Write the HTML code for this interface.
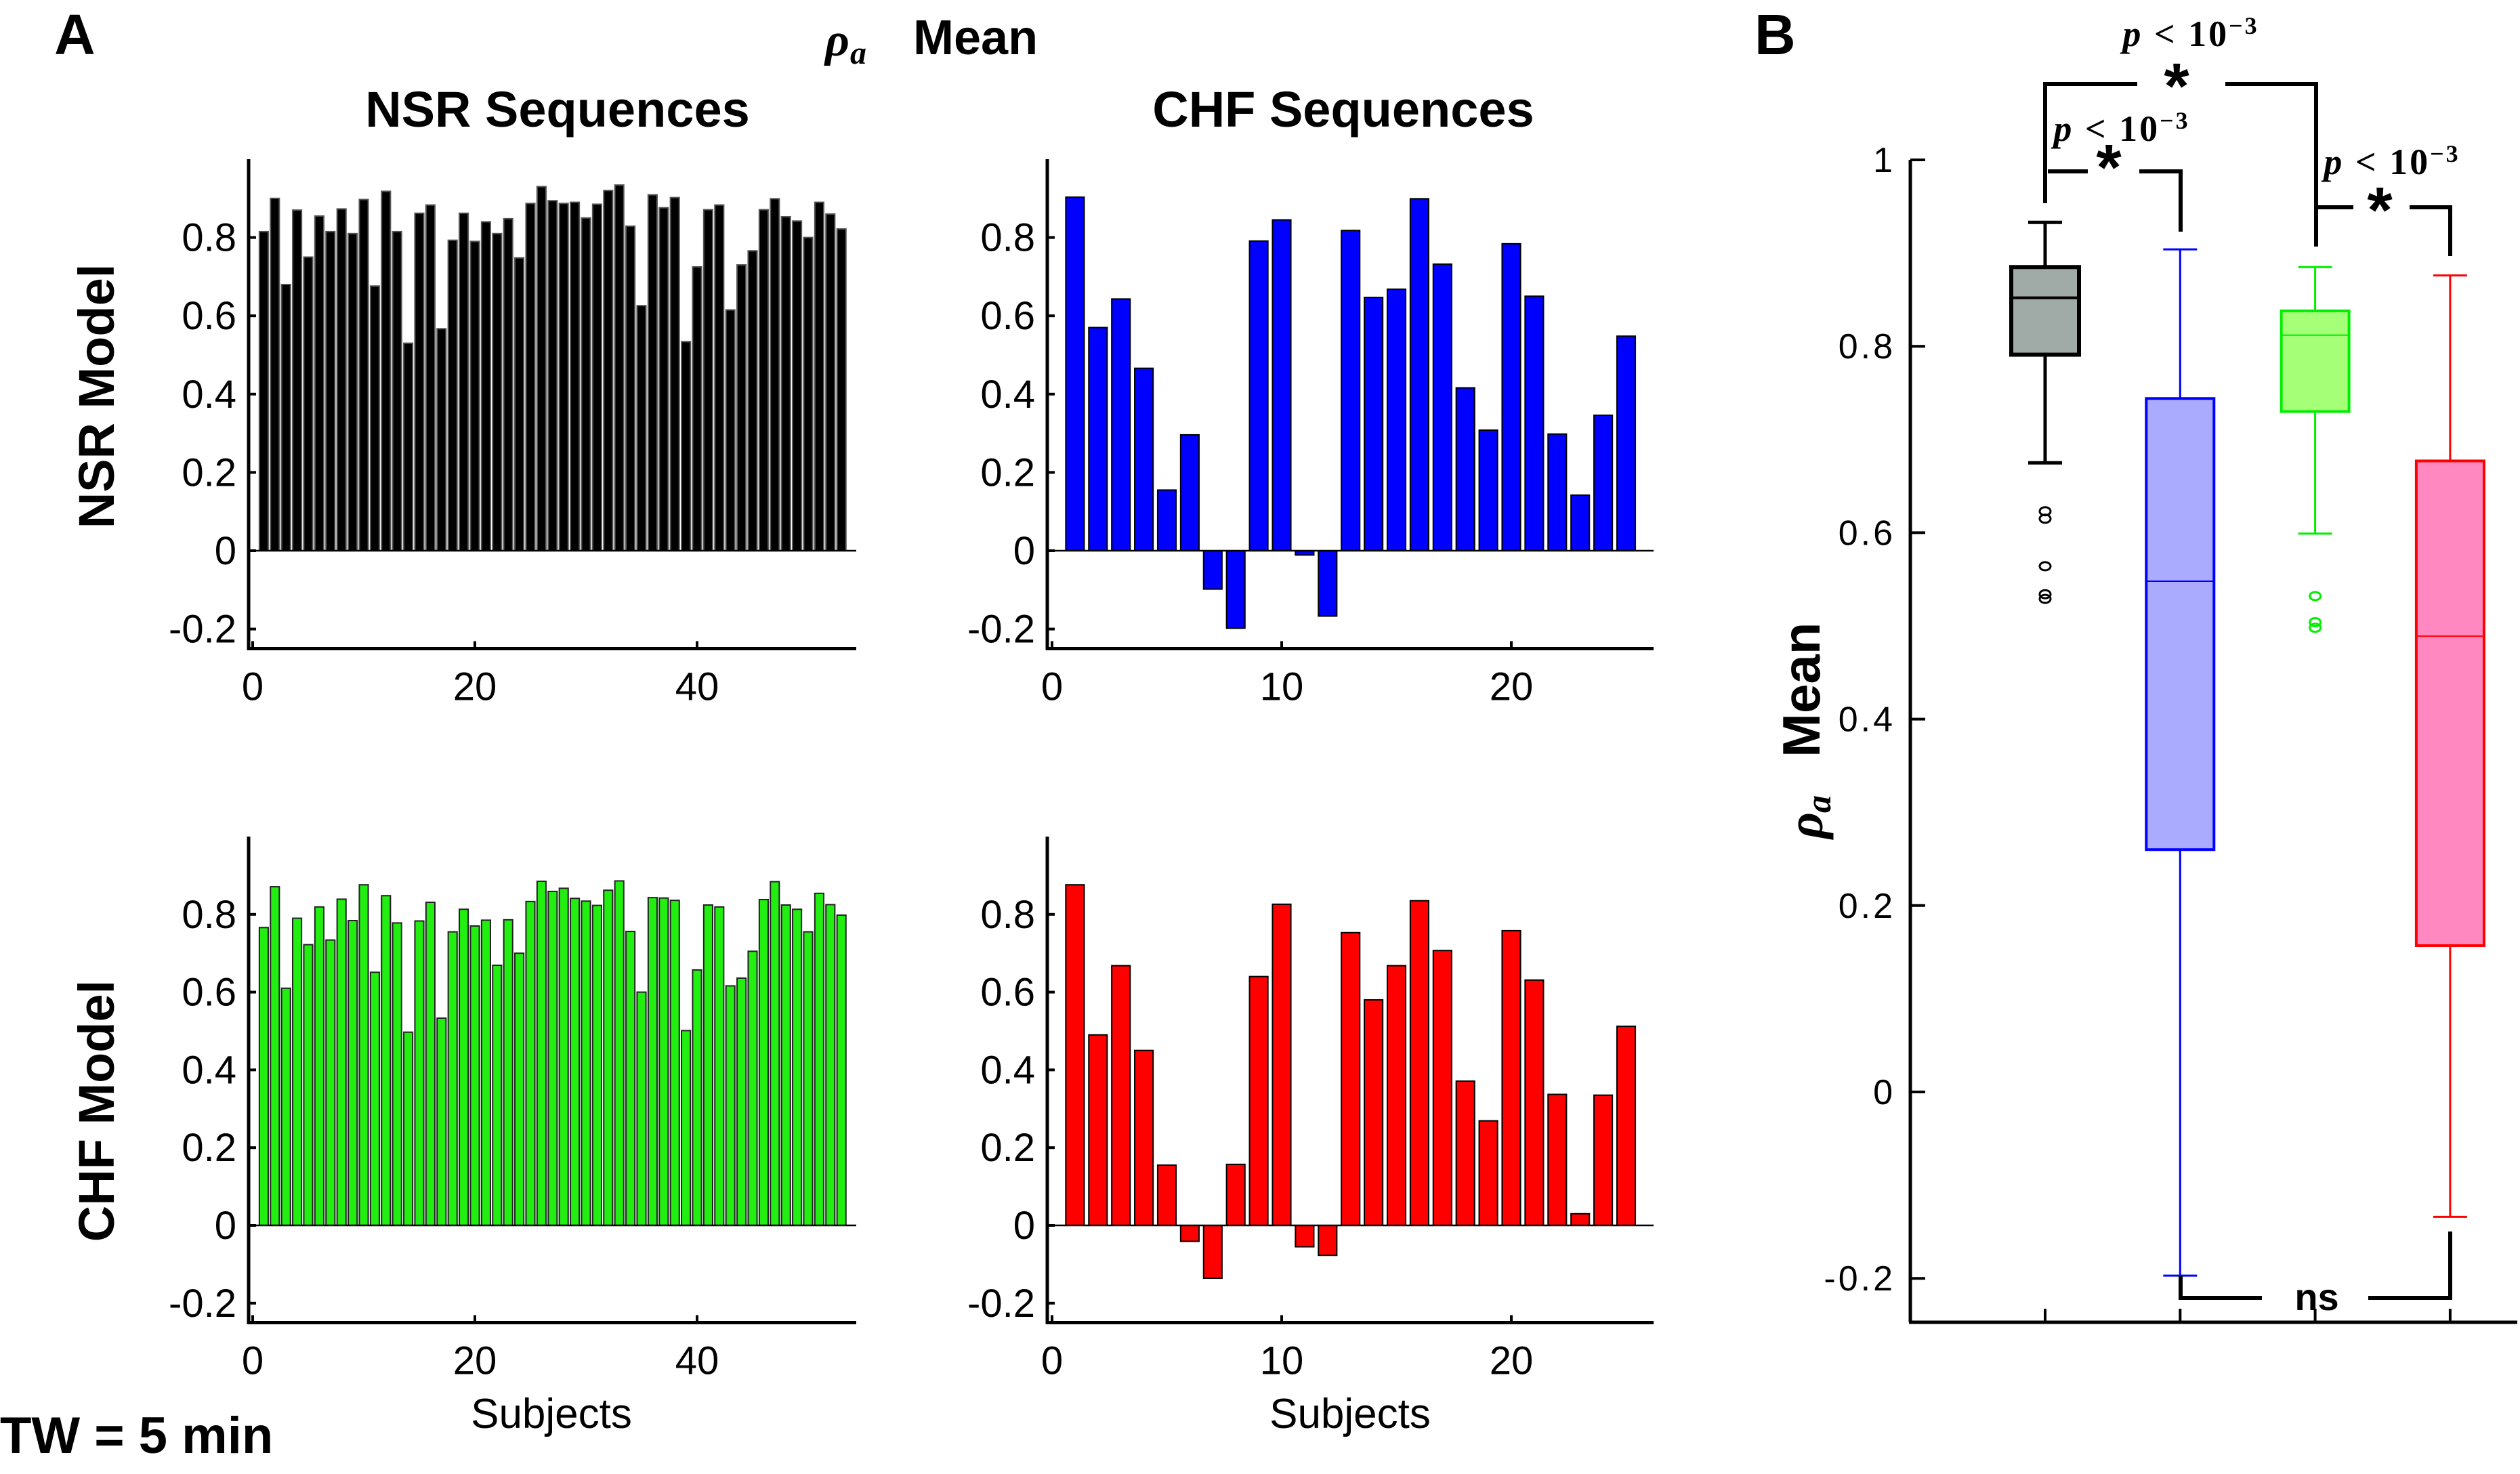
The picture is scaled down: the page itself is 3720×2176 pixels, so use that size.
<!DOCTYPE html>
<html><head><meta charset="utf-8"><style>
html,body{margin:0;padding:0;background:#fff;}
svg{display:block;font-family:"Liberation Sans",sans-serif;}
</style></head><body>
<svg id="fig" width="3720" height="2176" viewBox="0 0 3720 2176" xmlns="http://www.w3.org/2000/svg">
<text x="80" y="80" font-size="84" font-weight="bold">A</text>
<text x="2590" y="80" font-size="84" font-weight="bold">B</text>
<g>
<text x="1218" y="82" font-size="70" font-style="italic" font-weight="bold" font-family="Liberation Serif,serif">ρ</text>
<text x="1255" y="94" font-size="48" font-style="italic" font-weight="bold" font-family="Liberation Serif,serif">a</text>
<text x="1348" y="80" font-size="72" font-weight="bold">Mean</text>
</g>
<text x="823" y="187" font-size="74" font-weight="bold" text-anchor="middle">NSR Sequences</text>
<text x="1983" y="187" font-size="74" font-weight="bold" text-anchor="middle">CHF Sequences</text>
<text transform="translate(168,585) rotate(-90)" font-size="74" font-weight="bold" text-anchor="middle">NSR Model</text>
<text transform="translate(168,1640) rotate(-90)" font-size="74" font-weight="bold" text-anchor="middle">CHF Model</text>
<text x="814" y="2108" font-size="62" text-anchor="middle">Subjects</text>
<text x="1993" y="2108" font-size="62" text-anchor="middle">Subjects</text>
<text x="0" y="2145" font-size="76" font-weight="bold">TW = 5 min</text>
<g transform="translate(2668,1078) rotate(-90)">
<text x="-160" y="22" font-size="76" font-style="italic" font-weight="bold" font-family="Liberation Serif,serif">ρ</text>
<text x="-122" y="34" font-size="52" font-style="italic" font-weight="bold" font-family="Liberation Serif,serif">a</text>
<text x="-40" y="18" font-size="78" font-weight="bold">Mean</text>
</g>
<g id="charts"></g>
</svg>
<script>
const nsrModelNsrSeq = [0.815,0.90,0.68,0.87,0.75,0.855,0.815,0.873,0.81,0.897,0.676,0.918,0.815,0.53,0.862,0.883,0.567,0.793,0.862,0.79,0.84,0.81,0.848,0.748,0.887,0.93,0.894,0.887,0.89,0.85,0.885,0.92,0.934,0.829,0.626,0.909,0.876,0.902,0.534,0.725,0.871,0.883,0.615,0.73,0.766,0.871,0.899,0.853,0.842,0.80,0.89,0.86,0.822];
const nsrModelChfSeq = [0.903,0.570,0.643,0.466,0.155,0.296,-0.098,-0.198,0.791,0.845,-0.011,-0.167,0.818,0.647,0.668,0.899,0.732,0.416,0.308,0.784,0.65,0.298,0.142,0.346,0.548];
const chfModelNsrSeq = [0.766,0.871,0.61,0.79,0.722,0.819,0.734,0.839,0.784,0.876,0.651,0.848,0.778,0.497,0.783,0.831,0.533,0.755,0.813,0.77,0.785,0.669,0.786,0.70,0.833,0.885,0.859,0.867,0.841,0.834,0.823,0.862,0.886,0.756,0.60,0.843,0.842,0.836,0.501,0.657,0.824,0.819,0.616,0.636,0.705,0.838,0.884,0.824,0.813,0.755,0.854,0.825,0.798];
const chfModelChfSeq = [0.876,0.49,0.668,0.45,0.155,-0.041,-0.136,0.157,0.64,0.826,-0.055,-0.077,0.753,0.58,0.668,0.835,0.707,0.371,0.269,0.758,0.631,0.337,0.03,0.335,0.512];
const barYTicks = [-0.2,0,0.2,0.4,0.6,0.8];
const nsrXTicks = [0,20,40];
const chfXTicks = [0,10,20];
const boxGroups = ["nsr-model-nsr","nsr-model-chf","chf-model-nsr","chf-model-chf"];
const boxWhiskerHigh = [0.933,0.904,0.885,0.876];
const boxQ3 = [0.885,0.744,0.838,0.677];
const boxMedian = [0.852,0.548,0.812,0.489];
const boxQ1 = [0.791,0.26,0.73,0.157];
const boxWhiskerLow = [0.675,-0.197,0.599,-0.134];
const boxOutliers = [[0.623,0.615,0.564,0.534,0.529],[],[0.532,0.504,0.498],[]];
const boxYTicks = [-0.2,0,0.2,0.4,0.6,0.8,1];

const NS="http://www.w3.org/2000/svg";
const root=document.getElementById('charts');
function mk(tag,attrs,parent){const e=document.createElementNS(NS,tag);for(const k in attrs)e.setAttribute(k,attrs[k]);(parent||root).appendChild(e);return e;}

function barPanel(name,data,xticks,P){
  const g=mk('g',{});
  
  
  const X=v=>P.x0+v*P.ux, Y=v=>P.yZero-v*P.uy;
  const w=0.8*P.ux;
  data.forEach((v,i)=>{
    const y0=Y(0),y1=Y(v);
    const r=mk('rect',{x:X(i+1)-w/2,y:Math.min(y0,y1),width:w,height:Math.abs(y1-y0),fill:P.fill,stroke:P.edge,'stroke-width':2},g);
    
    
  });
  const zl=mk('line',{x1:P.left,x2:P.right,y1:Y(0),y2:Y(0),stroke:'#000','stroke-width':2.5},g);
  
  
  const yb=Y(-0.25), yt=Y(1);
  const ya=mk('line',{x1:P.left,x2:P.left,y1:yt,y2:yb+2,stroke:'#000','stroke-width':5},g);
  
  
  const xa=mk('line',{x1:P.left-2,x2:P.right,y1:yb,y2:yb,stroke:'#000','stroke-width':5},g);
  
  
  barYTicks.forEach(t=>{
    mk('line',{x1:P.left,x2:P.left+11,y1:Y(t),y2:Y(t),stroke:'#000','stroke-width':4},g);
    const tx=mk('text',{x:P.left-18,y:Y(t)+20,'font-size':58,'text-anchor':'end'},g);
    tx.textContent=(t===0?'0':t.toFixed(1));
    
    
  });
  xticks.forEach(t=>{
    mk('line',{x1:X(t),x2:X(t),y1:yb,y2:yb-11,stroke:'#000','stroke-width':4},g);
    const tx=mk('text',{x:X(t),y:yb+76,'font-size':58,'text-anchor':'middle'},g);
    tx.textContent=t;
    
    
  });
}
barPanel('nsr-model-nsr-seq-chart',nsrModelNsrSeq,nsrXTicks,{x0:373,ux:16.4,yZero:813,uy:578,left:367,right:1264,fill:'#000',edge:'#555'});
barPanel('nsr-model-chf-seq-chart',nsrModelChfSeq,chfXTicks,{x0:1553,ux:33.9,yZero:813,uy:578,left:1546,right:2441,fill:'#0000ff',edge:'#000'});
barPanel('chf-model-nsr-seq-chart',chfModelNsrSeq,nsrXTicks,{x0:373,ux:16.4,yZero:1809,uy:574,left:367,right:1264,fill:'#22ee11',edge:'#222'});
barPanel('chf-model-chf-seq-chart',chfModelChfSeq,chfXTicks,{x0:1553,ux:33.9,yZero:1809,uy:574,left:1546,right:2441,fill:'#ff0000',edge:'#000'});

(function(){
  const g=mk('g',{});
  
  
  const Y=v=>1612-v*1376;
  const X=i=>3019+i*199.3;
  const fills=['#a0aaa6','#aaaaff','#a5ff77','#ff88c0'];
  const edges=['#000','#0000ff','#00ee00','#ff0000'];
  const hw=50, cw=25;
  const ya=mk('line',{x1:2820,x2:2820,y1:Y(1),y2:1952,stroke:'#000','stroke-width':5},g);
  
  
  const xa=mk('line',{x1:2818,x2:3716,y1:1952,y2:1952,stroke:'#000','stroke-width':5},g);
  
  
  boxYTicks.forEach(t=>{
    mk('line',{x1:2820,x2:2842,y1:Y(t),y2:Y(t),stroke:'#000','stroke-width':4},g);
    const tx=mk('text',{x:2798,y:Y(t)+18,'font-size':52,'text-anchor':'end','letter-spacing':4},g);
    tx.textContent=(t===0||t===1)?String(t):t.toFixed(1);
    
    
  });
  boxGroups.forEach((nm,i)=>{
    const cx=X(i), c=edges[i], sw=i===0?5:3;
    mk('line',{x1:cx,x2:cx,y1:Y(boxWhiskerHigh[i]),y2:Y(boxWhiskerLow[i]),stroke:c,'stroke-width':sw},g);
    mk('line',{x1:cx-cw,x2:cx+cw,y1:Y(boxWhiskerHigh[i]),y2:Y(boxWhiskerHigh[i]),stroke:c,'stroke-width':sw},g);
    mk('line',{x1:cx-cw,x2:cx+cw,y1:Y(boxWhiskerLow[i]),y2:Y(boxWhiskerLow[i]),stroke:c,'stroke-width':sw},g);
    const b=mk('rect',{x:cx-hw,y:Y(boxQ3[i]),width:2*hw,height:Y(boxQ1[i])-Y(boxQ3[i]),fill:fills[i],stroke:c,'stroke-width':sw+1},g);
    
    
    mk('line',{x1:cx-hw,x2:cx+hw,y1:Y(boxMedian[i]),y2:Y(boxMedian[i]),stroke:c,'stroke-width':sw-1},g);
    mk('line',{x1:cx,x2:cx,y1:1952,y2:1932,stroke:'#000','stroke-width':4},g);
    boxOutliers[i].forEach(v=>{
      const o=mk('ellipse',{cx:cx,cy:Y(v),rx:8,ry:6,fill:'none',stroke:c,'stroke-width':3},g);
      
      
    });
  });
  const L=(x1,y1,x2,y2)=>mk('line',{x1,y1,x2,y2,stroke:'#000','stroke-width':6},g);
  L(3019,124,3155,124);L(3285,124,3419,124);L(3019,121,3019,300);L(3419,121,3419,364);
  L(3023,253,3082,253);L(3158,253,3219,253);L(3219,250,3219,342);
  L(3420,306,3474,306);L(3557,306,3617,306);L(3617,303,3617,378);
  L(3219,1884,3219,1919);L(3219,1916,3339,1916);L(3496,1916,3617,1916);L(3617,1818,3617,1919);
  const T=(x,y,s,fs,name)=>{const t=mk('text',{x,y,'font-size':fs,'text-anchor':'middle','font-weight':'bold'},g);t.textContent=s;return t;};
  T(3213,160,'*',96,'significance-star');
  T(3113,280,'*',96,'significance-star');
  T(3513,343,'*',96,'significance-star');
  T(3420,1934,'ns',56,'not-significant-label');
  const P=(x,y,name)=>{const t=mk('text',{x,y,'font-size':54,'text-anchor':'middle','font-weight':'bold','font-family':'Liberation Serif,serif','letter-spacing':3},g);
    t.innerHTML='<tspan font-style="italic">p</tspan> &lt; 10<tspan dy="-18" font-size="36">−3</tspan>';
    };
  P(3234,68,'p-value-label');
  P(3132,208,'p-value-label');
  P(3531,257,'p-value-label');
})();
</script>
</body></html>
